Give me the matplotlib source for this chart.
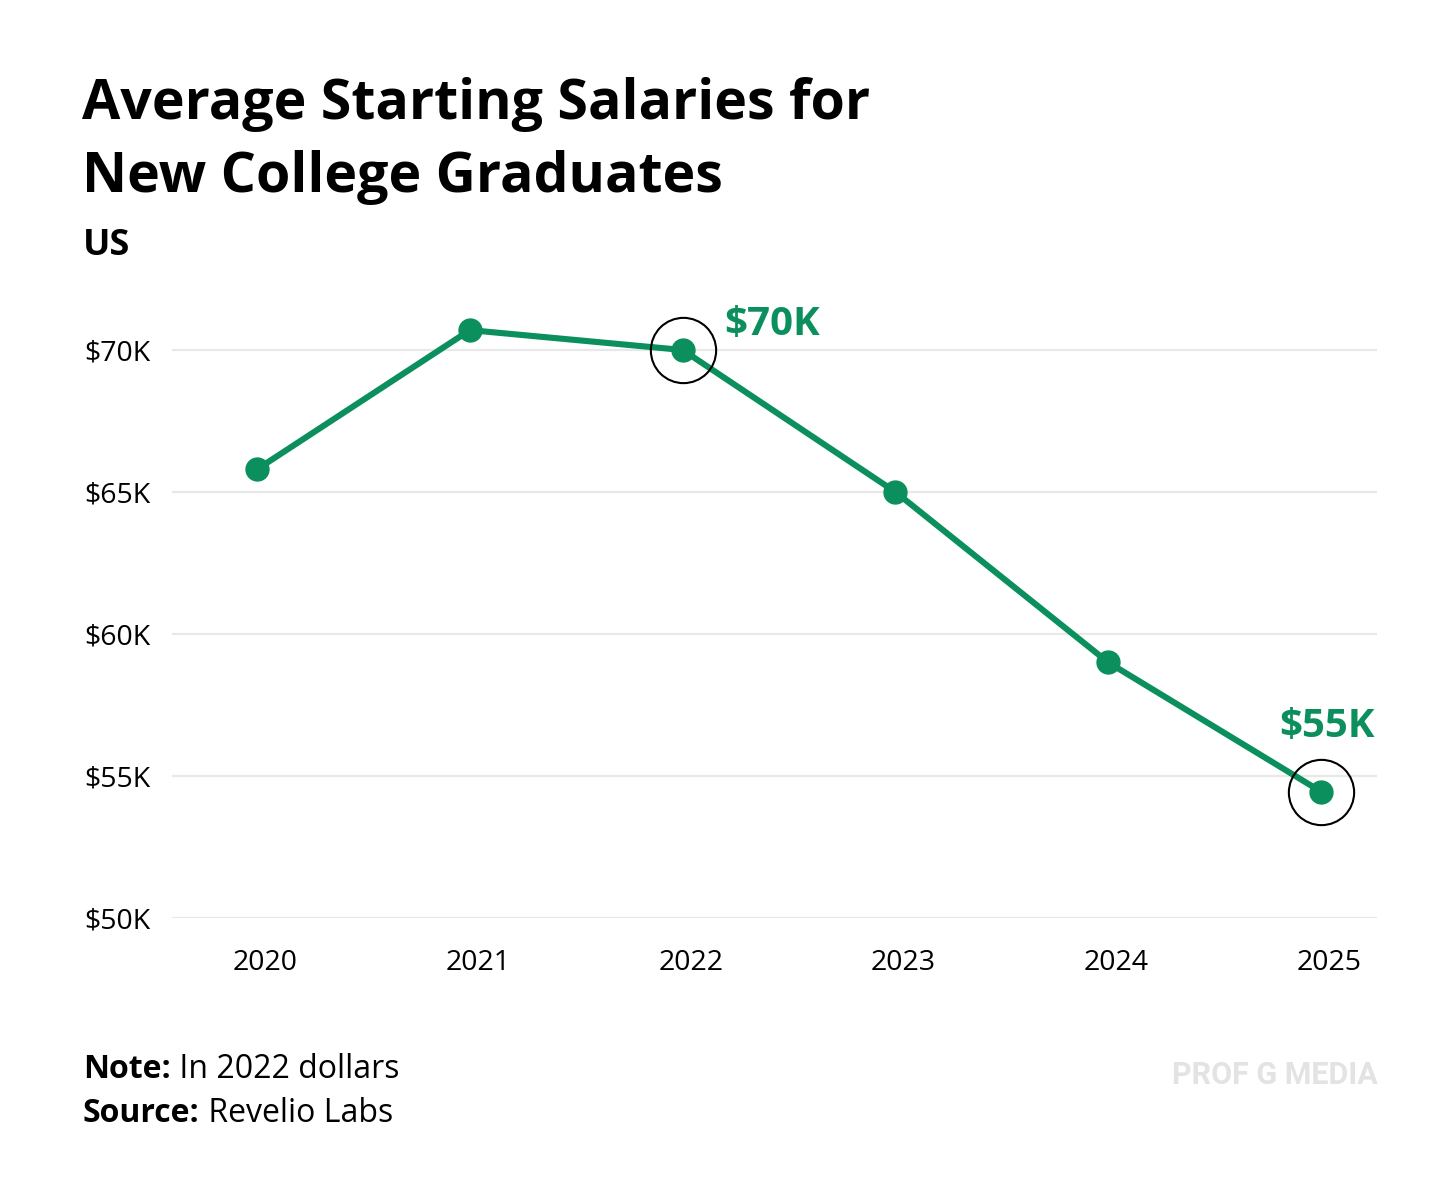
import matplotlib
matplotlib.use('Agg')
import matplotlib.pyplot as plt
import matplotlib.transforms as mtransforms

# data
years = [2020, 2021, 2022, 2023, 2024, 2025]
salary_k = [65.8, 70.7, 70.0, 65.0, 59.0, 54.45]
y_ticks = [50, 55, 60, 65, 70]
y_tick_labels = ['$50K', '$55K', '$60K', '$65K', '$70K']
callout_years = [2022, 2025]
callout_values = [70.0, 54.45]
callout_labels = ['$70K', '$55K']

GREEN = '#0b8f5c'
GRID = '#e8e8e8'
W, H = 1456, 1194

plt.rcParams['font.family'] = ['Open Sans', 'DejaVu Sans']

fig = plt.figure(figsize=(W / 100, H / 100), dpi=100)

# axes placed in pixel terms of the reference
left, right = 172, 1377
bottom_px, top_px = 918, 293.2
ax = fig.add_axes([left / W, (H - bottom_px) / H, (right - left) / W,
                   (bottom_px - top_px) / H])
ax.set_xlim(2019.60, 2025.263)
ax.set_ylim(50, 72)

for v in y_ticks:
  ax.axhline(v, color=GRID, lw=1.6, zorder=0)

ax.plot(years, salary_k, color=GREEN, lw=4.4, marker='o', ms=16.5,
        solid_capstyle='round', zorder=3)
ax.plot(callout_years, callout_values, ls='none', marker='o', ms=47,
        mfc='none', mec='black', mew=1.5, zorder=4)

# callout labels
ax.annotate(callout_labels[0], xy=(callout_years[0], callout_values[0]),
            xytext=(30, 10.5), textcoords='offset points', color=GREEN,
            fontsize=29, fontweight='bold', ha='left', va='baseline')
ax.annotate(callout_labels[1], xy=(callout_years[1], callout_values[1]),
            xytext=(39, 39.5), textcoords='offset points', color=GREEN,
            fontsize=29, fontweight='bold', ha='right', va='baseline')

for s in ax.spines.values():
  s.set_visible(False)
ax.set_xticks(years)
ax.set_xticklabels([str(y) for y in years], fontsize=20.5)
ax.set_yticks(y_ticks)
ax.set_yticklabels(y_tick_labels, fontsize=20.5, ha='left')
ax.tick_params(axis='both', length=0)
ax.tick_params(axis='x', pad=22)
ax.tick_params(axis='y', pad=(left - 84) * 0.72)
shift = mtransforms.ScaledTranslation(8 / 100, 0, fig.dpi_scale_trans)
for lbl in ax.get_xticklabels():
  lbl.set_transform(lbl.get_transform() + shift)

# titles
fig.text(82 / W, 1 - 119 / H, 'Average Starting Salaries for', fontsize=40,
         fontweight='bold', va='baseline')
fig.text(82 / W, 1 - 192 / H, 'New College Graduates', fontsize=40,
         fontweight='bold', va='baseline')
fig.text(83 / W, 1 - 255 / H, 'US', fontsize=26, fontweight='bold',
         va='baseline')

# footer
t1 = fig.text(83 / W, 1 - 1078 / H, 'Note:', fontsize=23, fontweight='bold',
              va='baseline')
t2 = fig.text(83 / W, 1 - 1122 / H, 'Source:', fontsize=23, fontweight='bold',
              va='baseline')
ax.annotate(' In 2022 dollars', xy=(1, 0), xycoords=t1, fontsize=23,
            va='bottom', annotation_clip=False)
ax.annotate(' Revelio Labs', xy=(1, 0), xycoords=t2, fontsize=23,
            va='bottom', annotation_clip=False)

fig.text(1378 / W, 1 - 1084 / H, 'PROF G MEDIA', fontsize=22,
         fontweight='bold', color='#e3e3e3', ha='right', va='baseline',
         family=['Roboto', 'DejaVu Sans'])

fig.savefig('out.png', dpi=100, facecolor='white')
